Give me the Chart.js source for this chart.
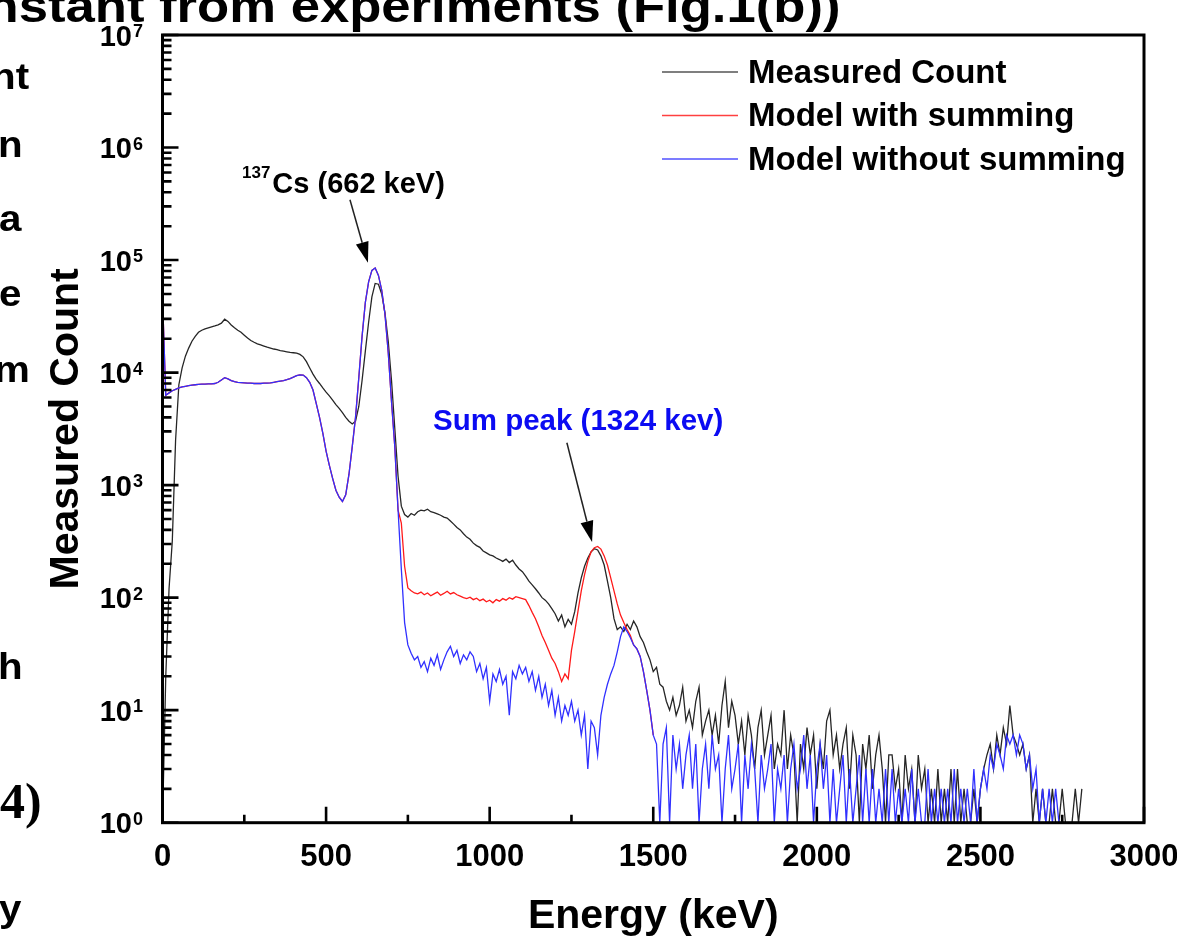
<!DOCTYPE html>
<html>
<head>
<meta charset="utf-8">
<title>Measured vs model spectrum</title>
<script src="https://cdn.jsdelivr.net/npm/chart.js@4.4.1/dist/chart.umd.min.js"></script>
<style>
  html, body { margin: 0; padding: 0; background: #fff; overflow: hidden; }
  #wrap { position: relative; width: 1177px; height: 937px; }
  #chart { position: absolute; left: 0; top: 0; }
  .frag {
    position: absolute; color: #000; white-space: nowrap; line-height: 1;
    font-family: "Liberation Sans", Arial, sans-serif; font-weight: bold; font-size: 36px;
    transform: scaleX(1.12); transform-origin: left top;
  }
  .serif { font-family: "Liberation Serif", "Times New Roman", serif; font-size: 50px; transform: none; }
  #title { font-size: 47px; transform: scaleX(1.12); transform-origin: right top; right: 337px; top: -18px; }
</style>
</head>
<body>
<div id="wrap">
  <canvas id="chart" width="1177" height="937"></canvas>
  <div class="frag" id="title">Determining the decay constant from experiments (Fig.1(b))</div>
  <div class="frag" style="left:-9px; top:59px">nt</div>
  <div class="frag" style="left:-2px; top:127px">n</div>
  <div class="frag" style="left:-1px; top:201px">a</div>
  <div class="frag" style="left:-1px; top:276px">e</div>
  <div class="frag" style="left:-6px; top:352px">m</div>
  <div class="frag" style="left:-2px; top:649px">h</div>
  <div class="frag serif" style="left:0px; top:776px">4)</div>
  <div class="frag" style="left:-1px; top:891px">y</div>
</div>
<script>
// channel energies (keV)
const energies = [
  0,10,20,30,40,50,60,70,80,90,
  100,110,120,130,140,150,160,170,180,190,
  200,210,220,230,240,250,260,270,280,290,
  300,310,320,330,340,350,360,370,380,390,
  400,410,420,430,440,450,460,470,480,490,
  500,510,520,530,540,550,560,570,580,590,
  600,610,620,630,640,650,660,670,680,690,
  700,710,720,730,740,750,760,770,780,790,
  800,810,820,830,840,850,860,870,880,890,
  900,910,920,930,940,950,960,970,980,990,
  1000,1010,1020,1030,1040,1050,1060,1070,1080,1090,
  1100,1110,1120,1130,1140,1150,1160,1170,1180,1190,
  1200,1210,1220,1230,1240,1250,1260,1270,1280,1290,
  1300,1310,1320,1330,1340,1350,1360,1370,1380,1390,
  1400,1410,1420,1430,1440,1450,1460,1470,1480,1490,
  1500,1510,1520,1530,1540,1550,1560,1570,1580,1590,
  1600,1610,1620,1630,1640,1650,1660,1670,1680,1690,
  1700,1710,1720,1730,1740,1750,1760,1770,1780,1790,
  1800,1810,1820,1830,1840,1850,1860,1870,1880,1890,
  1900,1910,1920,1930,1940,1950,1960,1970,1980,1990,
  2000,2010,2020,2030,2040,2050,2060,2070,2080,2090,
  2100,2110,2120,2130,2140,2150,2160,2170,2180,2190,
  2200,2210,2220,2230,2240,2250,2260,2270,2280,2290,
  2300,2310,2320,2330,2340,2350,2360,2370,2380,2390,
  2400,2410,2420,2430,2440,2450,2460,2470,2480,2490,
  2500,2510,2520,2530,2540,2550,2560,2570,2580,2590,
  2600,2610,2620,2630,2640,2650,2660,2670,2680,2690,
  2700,2710,2720,2730,2740,2750,2760,2770,2780,2790,
  2800,2810,2820,2830,2840,2850
];

const measured = [
  1,20,120,320,2500,7800,11000,14000,16500,19000,
  21000,22800,23800,24500,25000,25500,26000,26600,27500,29800,
  28500,26500,25000,23800,22800,21500,20300,19300,18600,18000,
  17600,17200,16800,16500,16200,16000,15700,15500,15300,15100,
  15000,14900,14500,13800,12500,11000,9700,8700,8000,7300,
  6700,6200,5700,5200,4800,4400,4000,3700,3500,3700,
  5000,8500,15500,28000,47000,62000,61000,50000,34000,19000,
  8500,3200,1200,650,548,520,560,540,580,600,
  590,610,580,570,555,540,520,510,480,450,
  420,400,370,345,330,305,290,280,260,250,
  240,235,225,218,210,220,205,215,195,180,
  170,155,140,130,120,110,100,95,88,80,
  72,62,70,55,64,58,75,110,150,190,
  225,255,272,265,235,195,140,100,65,52,
  55,50,58,52,62,55,45,40,33,28,
  22,24,17,16,12,10,13,9,11,16,
  8,10,7,12,16,6,8,10,6,9,
  5,11,18,7,12,9,5,8,4,9,
  6,3,7,10,4,6,9,3,5,4,
  10,3,6,4,1,5,3,7,4,6,
  2,5,3,8,10,4,6,3,5,7,
  2,6,4,1,5,3,6,2,4,6,
  3,1,4,4,2,3,1,4,2,3,
  1,4,2,3,1,2,1,3,1,2,
  1,3,1,3,1,2,1,1,2,1,
  2,3,4,5,3,6,4,7,5,11,
  6,5,4,5,3,4,1,2,1,2,
  1,1,2,1,1,2,1,1,1,2,
  1,2,null,null,null,null
];

const withSumming = [
  47000,6300,6600,6900,7100,7300,7450,7550,7650,7750,
  7800,7850,7900,7900,7950,7950,8000,8200,8600,9000,
  8800,8500,8300,8200,8150,8100,8050,8050,8000,8000,
  8000,8050,8050,8100,8200,8300,8400,8500,8650,8850,
  9100,9400,9550,9500,9000,8200,7000,5300,4000,2900,
  2000,1500,1150,900,780,715,820,1250,2200,4000,
  9000,21000,42000,64000,81000,85000,73000,54000,33000,15000,
  5500,2200,600,460,190,122,115,110,108,112,
  106,110,104,108,112,105,109,114,108,111,
  106,103,100,98,101,96,99,94,97,92,
  95,90,96,93,98,95,100,97,102,100,
  98,96,85,74,65,55,46,40,34,29,
  26,22,18,21,19,34,50,76,115,160,
  210,255,278,285,270,235,195,150,115,88,
  70,60,52,46,38,35,30,22,15,10,
  6,null,null,null,null,null,null,null,null,null,
  null,null,null,null,null,null,null,null,null,null,
  null,null,null,null,null,null,null,null,null,null,
  null,null,null,null,null,null,null,null,null,null,
  null,null,null,null,null,null,null,null,null,null,
  null,null,null,null,null,null,null,null,null,null,
  null,null,null,null,null,null,null,null,null,null,
  null,null,null,null,null,null,null,null,null,null,
  null,null,null,null,null,null,null,null,null,null,
  null,null,null,null,null,null,null,null,null,null,
  null,null,null,null,null,null,null,null,null,null,
  null,null,null,null,null,null,null,null,null,null,
  null,null,null,null,null,null,null,null,null,null,
  null,null,null,null,null,null
];

const withoutSumming = [
  47000,6300,6600,6900,7100,7300,7450,7550,7650,7750,
  7800,7850,7900,7900,7950,7950,8000,8200,8600,9000,
  8800,8500,8300,8200,8150,8100,8050,8050,8000,8000,
  8000,8050,8050,8100,8200,8300,8400,8500,8650,8850,
  9100,9400,9550,9500,9000,8200,7000,5300,4000,2900,
  2000,1500,1150,900,780,715,820,1250,2200,4000,
  9000,21000,42000,64000,81000,85000,73000,54000,33000,15000,
  5500,2200,600,180,60,38,32,28,30,24,
  27,22,29,25,31,23,28,33,37,30,
  34,26,31,28,33,30,22,26,19,24,
  12,21,18,23,17,20,9,22,19,25,
  21,24,18,22,15,20,13,17,11,15,
  9,13,8,11,9,12,8,10,6,9,
  3,8,7,4,9,13,17,21,25,33,
  45,55,50,44,38,35,30,22,15,10,
  6,5,1,5,7,1,6,3,5,2,
  4,6,2,5,1,3,5,2,6,3,
  4,1,3,6,2,3,5,1,4,2,
  5,3,1,4,2,3,5,1,3,2,
  4,1,3,5,2,3,6,2,4,1,
  3,5,2,4,1,3,1,2,4,1,
  3,1,2,4,1,3,1,3,1,2,
  1,3,1,3,1,2,1,2,1,3,
  1,2,1,1,3,1,2,1,2,1,
  2,1,3,1,2,1,2,1,3,1,
  2,3,2,4,3,5,4,3,6,5,
  6,4,6,5,3,4,2,3,1,2,
  1,2,1,2,1,null,null,null,null,null,
  null,null,null,null,null,null
];

// axis ticks
const xMajorTicks = [0, 500, 1000, 1500, 2000, 2500, 3000];
const xMinorTicks = [250, 750, 1250, 1750, 2250, 2750];
const yMajorTicks = [1, 10, 100, 1000, 10000, 100000, 1000000, 10000000];
const yExponents = ['0', '1', '2', '3', '4', '5', '6', '7'];
const yMinorSteps = [2, 3, 4, 5, 6, 7, 8, 9];

// annotation anchors in data units [keV, count]
const notes = {
  csText: [243, 395000],
  csFrom: [573, 343000],
  csTo: [628, 94400],
  sumText: [827, 3100],
  sumFrom: [1236, 2380],
  sumTo: [1313, 313]
};

const FONT = '"Liberation Sans", Arial, sans-serif';

function pairs(vals) {
  return energies.map((e, i) => ({ x: e, y: vals[i] }));
}

function drawArrow(ctx, x1, y1, x2, y2) {
  const ang = Math.atan2(y2 - y1, x2 - x1);
  const len = 21, hw = 6.5;
  const bx = x2 - len * Math.cos(ang), by = y2 - len * Math.sin(ang);
  ctx.beginPath();
  ctx.moveTo(x1, y1);
  ctx.lineTo(bx, by);
  ctx.stroke();
  ctx.beginPath();
  ctx.moveTo(x2, y2);
  ctx.lineTo(bx + hw * Math.sin(ang), by - hw * Math.cos(ang));
  ctx.lineTo(bx - hw * Math.sin(ang), by + hw * Math.cos(ang));
  ctx.closePath();
  ctx.fill();
}

// frame, inward ticks, y labels with exponents, legend and notes
const decorations = {
  id: 'decorations',
  afterDraw(chart) {
    const { ctx, chartArea: a, scales: { x, y } } = chart;
    ctx.save();

    ctx.strokeStyle = '#000';
    ctx.lineWidth = 3;
    ctx.strokeRect(a.left, a.top, a.right - a.left, a.bottom - a.top);

    ctx.beginPath();
    xMajorTicks.forEach(v => {
      const px = x.getPixelForValue(v);
      ctx.moveTo(px, a.bottom); ctx.lineTo(px, a.bottom - 16);
    });
    xMinorTicks.forEach(v => {
      const px = x.getPixelForValue(v);
      ctx.moveTo(px, a.bottom); ctx.lineTo(px, a.bottom - 8);
    });
    yMajorTicks.forEach(v => {
      const py = y.getPixelForValue(v);
      ctx.moveTo(a.left, py); ctx.lineTo(a.left + 16, py);
    });
    yMajorTicks.slice(0, -1).forEach(d => {
      yMinorSteps.forEach(m => {
        const py = y.getPixelForValue(d * m);
        ctx.moveTo(a.left, py); ctx.lineTo(a.left + 9, py);
      });
    });
    ctx.lineWidth = 2.6;
    ctx.stroke();

    // y tick labels: 10 with superscript exponent
    ctx.fillStyle = '#000';
    ctx.textBaseline = 'alphabetic';
    yMajorTicks.forEach((v, i) => {
      const py = y.getPixelForValue(v);
      ctx.font = 'bold 29px ' + FONT;
      ctx.textAlign = 'right';
      ctx.fillText('10', a.left - 30.5, py + 10.5);
      ctx.font = 'bold 18px ' + FONT;
      ctx.textAlign = 'left';
      ctx.fillText(yExponents[i], a.left - 29.5, py + 2);
    });

    // legend
    ctx.textAlign = 'left';
    ctx.textBaseline = 'middle';
    ctx.font = 'bold 33px ' + FONT;
    chart.data.datasets.forEach((ds, i) => {
      const ly = a.top + 38.5 + i * 43.5;
      ctx.strokeStyle = ds.legendColor;
      ctx.lineWidth = 1.5;
      ctx.beginPath();
      ctx.moveTo(a.left + 499.5, ly - 1.5);
      ctx.lineTo(a.left + 575.5, ly - 1.5);
      ctx.stroke();
      ctx.fillStyle = '#000';
      ctx.fillText(ds.label, a.left + 585.5, ly);
    });

    // notes
    const P = p => [x.getPixelForValue(p[0]), y.getPixelForValue(p[1])];
    ctx.textBaseline = 'alphabetic';
    const [cx, cy] = P(notes.csText);
    ctx.fillStyle = '#000';
    ctx.font = 'bold 17px ' + FONT;
    ctx.fillText('137', cx, cy - 15);
    const supW = ctx.measureText('137').width;
    ctx.font = 'bold 29px ' + FONT;
    ctx.fillText('Cs (662 keV)', cx + supW + 2, cy);

    ctx.strokeStyle = '#222';
    ctx.fillStyle = '#000';
    ctx.lineWidth = 1.5;
    drawArrow(ctx, ...P(notes.csFrom), ...P(notes.csTo));
    drawArrow(ctx, ...P(notes.sumFrom), ...P(notes.sumTo));

    const [sx, sy] = P(notes.sumText);
    ctx.fillStyle = '#0b0bf2';
    ctx.font = 'bold 29.5px ' + FONT;
    ctx.fillText('Sum peak (1324 kev)', sx, sy);

    ctx.restore();
  }
};

new Chart(document.getElementById('chart'), {
  type: 'line',
  data: {
    datasets: [
      {
        label: 'Measured Count',
        data: pairs(measured),
        borderColor: '#262626',
        legendColor: '#555',
        borderWidth: 1.3,
        order: 2
      },
      {
        label: 'Model with summing',
        data: pairs(withSumming),
        borderColor: '#ff1a1a',
        legendColor: '#ff4040',
        borderWidth: 1.3,
        order: 1
      },
      {
        label: 'Model without summing',
        data: pairs(withoutSumming),
        borderColor: '#3030ff',
        legendColor: '#5050ff',
        borderWidth: 1.3,
        order: 0
      }
    ]
  },
  options: {
    responsive: false,
    animation: false,
    devicePixelRatio: 1,
    spanGaps: false,
    elements: {
      point: { radius: 0 },
      line: { tension: 0, fill: false }
    },
    layout: { padding: { left: 0, right: 33, top: 35, bottom: 0 } },
    plugins: {
      legend: { display: false },
      tooltip: { enabled: false }
    },
    scales: {
      x: {
        type: 'linear',
        min: 0,
        max: 3000,
        grid: { display: false, drawTicks: false },
        border: { display: false },
        afterFit: s => { s.height = 114.3; s.paddingLeft = 0; s.paddingRight = 0; },
        ticks: {
          stepSize: 500,
          autoSkip: false,
          maxRotation: 0,
          padding: 16,
          color: '#000',
          font: { family: FONT, size: 31, weight: 'bold' },
          callback: v => String(v)
        },
        title: {
          display: true,
          text: 'Energy (keV)',
          color: '#000',
          padding: { top: 0, bottom: 0 },
          font: { family: FONT, size: 41, weight: 'bold', lineHeight: 1 }
        }
      },
      y: {
        type: 'logarithmic',
        min: 1,
        max: 10000000,
        grid: { display: false, drawTicks: false },
        border: { display: false },
        ticks: { display: false },
        afterFit: s => { s.width = 162.5; s.paddingTop = 0; s.paddingBottom = 0; },
        title: {
          display: true,
          text: 'Measured Count',
          color: '#000',
          padding: { top: 46, bottom: 0 },
          font: { family: FONT, size: 41, weight: 'bold', lineHeight: 1 }
        }
      }
    }
  },
  plugins: [decorations]
});
</script>
</body>
</html>
